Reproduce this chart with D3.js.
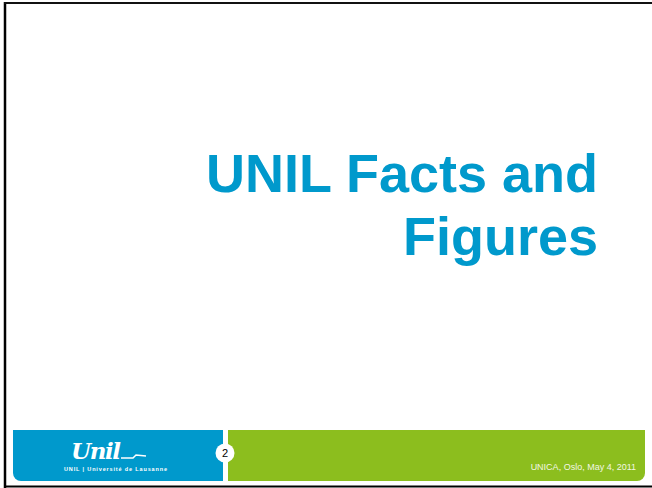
<!DOCTYPE html>
<html>
<head>
<meta charset="utf-8">
<script src="https://cdn.jsdelivr.net/npm/d3@7"></script>
<style>
  body { margin: 0; background: #fff; }
  svg { display: block; }
</style>
</head>
<body>
<div id="container"></div>
<script>
"use strict";

const width = 652;
const height = 488;

// slide content
const titleLines = ["UNIL Facts and", "Figures"];
const footerText = ["UNICA, Oslo, May 4, 2011"];
const pageNumber = ["2"];
const logoWord = ["Unil"];
const logoSub = ["UNIL | Université de Lausanne"];

const blue = "#0099cc";
const green = "#8cbe1e";

let svg = d3.select("#container").append("svg")
    .attr("width", width)
    .attr("height", height);

// slide frame (left, top and bottom rules)
svg.append("rect").attr("x", 0).attr("y", 0).attr("width", width).attr("height", height).attr("fill", "#fff");
svg.append("line").attr("x1", 5).attr("x2", 5).attr("y1", 2).attr("y2", 488)
    .attr("stroke", "#000").attr("stroke-width", 2.5);
svg.append("line").attr("x1", 4).attr("x2", 652).attr("y1", 3).attr("y2", 3)
    .attr("stroke", "#111").attr("stroke-width", 2);
svg.append("line").attr("x1", 4).attr("x2", 652).attr("y1", 486.5).attr("y2", 486.5)
    .attr("stroke", "#000").attr("stroke-width", 2);

// title, right aligned, one baseline per line
const lineY = d3.scalePoint().domain(titleLines).range([192, 255]);
svg.selectAll(".title")
    .data(titleLines)
    .enter()
    .append("text")
    .attr("class", "title")
    .attr("x", 598)
    .attr("y", d => lineY(d))
    .attr("text-anchor", "end")
    .style("font-family", "'Liberation Sans', Arial, sans-serif")
    .style("font-weight", "bold")
    .style("font-size", "54px")
    .style("fill", blue)
    .text(d => d);

// footer bands
const fy0 = 430, fy1 = 481, r = 8;
function roundedBar(x0, x1, left) {
    let p = d3.path();
    if (left) {
        p.moveTo(x0, fy0);
        p.lineTo(x1, fy0);
        p.lineTo(x1, fy1);
        p.lineTo(x0 + r, fy1);
        p.arcTo(x0, fy1, x0, fy1 - r, r);
        p.closePath();
    } else {
        p.moveTo(x0, fy0);
        p.lineTo(x1, fy0);
        p.lineTo(x1, fy1 - r);
        p.arcTo(x1, fy1, x1 - r, fy1, r);
        p.lineTo(x0, fy1);
        p.closePath();
    }
    return p.toString();
}
svg.append("path").attr("d", roundedBar(13, 223, true)).attr("fill", blue);
svg.append("path").attr("d", roundedBar(228, 645, false)).attr("fill", green);

// page number badge
let badge = svg.selectAll(".badge").data(pageNumber).enter().append("g").attr("class", "badge");
badge.append("circle").attr("cx", 225).attr("cy", 453).attr("r", 9.5).attr("fill", "#fff");
badge.append("text")
    .attr("x", 225).attr("y", 457)
    .attr("text-anchor", "middle")
    .style("font-family", "'Liberation Sans', Arial, sans-serif")
    .style("font-size", "11px")
    .style("fill", "#000")
    .text(d => d);

// footer text
svg.selectAll(".footer")
    .data(footerText)
    .enter()
    .append("text")
    .attr("class", "footer")
    .attr("x", 636).attr("y", 470)
    .attr("text-anchor", "end")
    .style("font-family", "'Liberation Sans', Arial, sans-serif")
    .style("font-size", "9px")
    .style("fill", "#f2f7e4")
    .text(d => d);

// logo
svg.selectAll(".logo")
    .data(logoWord)
    .enter()
    .append("text")
    .attr("class", "logo")
    .attr("x", 71).attr("y", 459)
    .attr("textLength", 50)
    .style("font-family", "'DejaVu Serif', serif")
    .style("font-style", "italic")
    .style("font-weight", "bold")
    .style("font-size", "23px")
    .style("fill", "#fff")
    .text(d => d);
svg.append("path")
    .attr("d", "M121,458 L133,458 L136,455 L146,456")
    .attr("fill", "none")
    .attr("stroke", "#fff")
    .attr("stroke-width", 1.5);
svg.selectAll(".logosub")
    .data(logoSub)
    .enter()
    .append("text")
    .attr("class", "logosub")
    .attr("x", 64).attr("y", 471)
    .attr("textLength", 103)
    .style("font-family", "'Liberation Sans', Arial, sans-serif")
    .style("font-weight", "bold")
    .style("font-size", "5.5px")
    .style("fill", "#fff")
    .text(d => d);
</script>
</body>
</html>
